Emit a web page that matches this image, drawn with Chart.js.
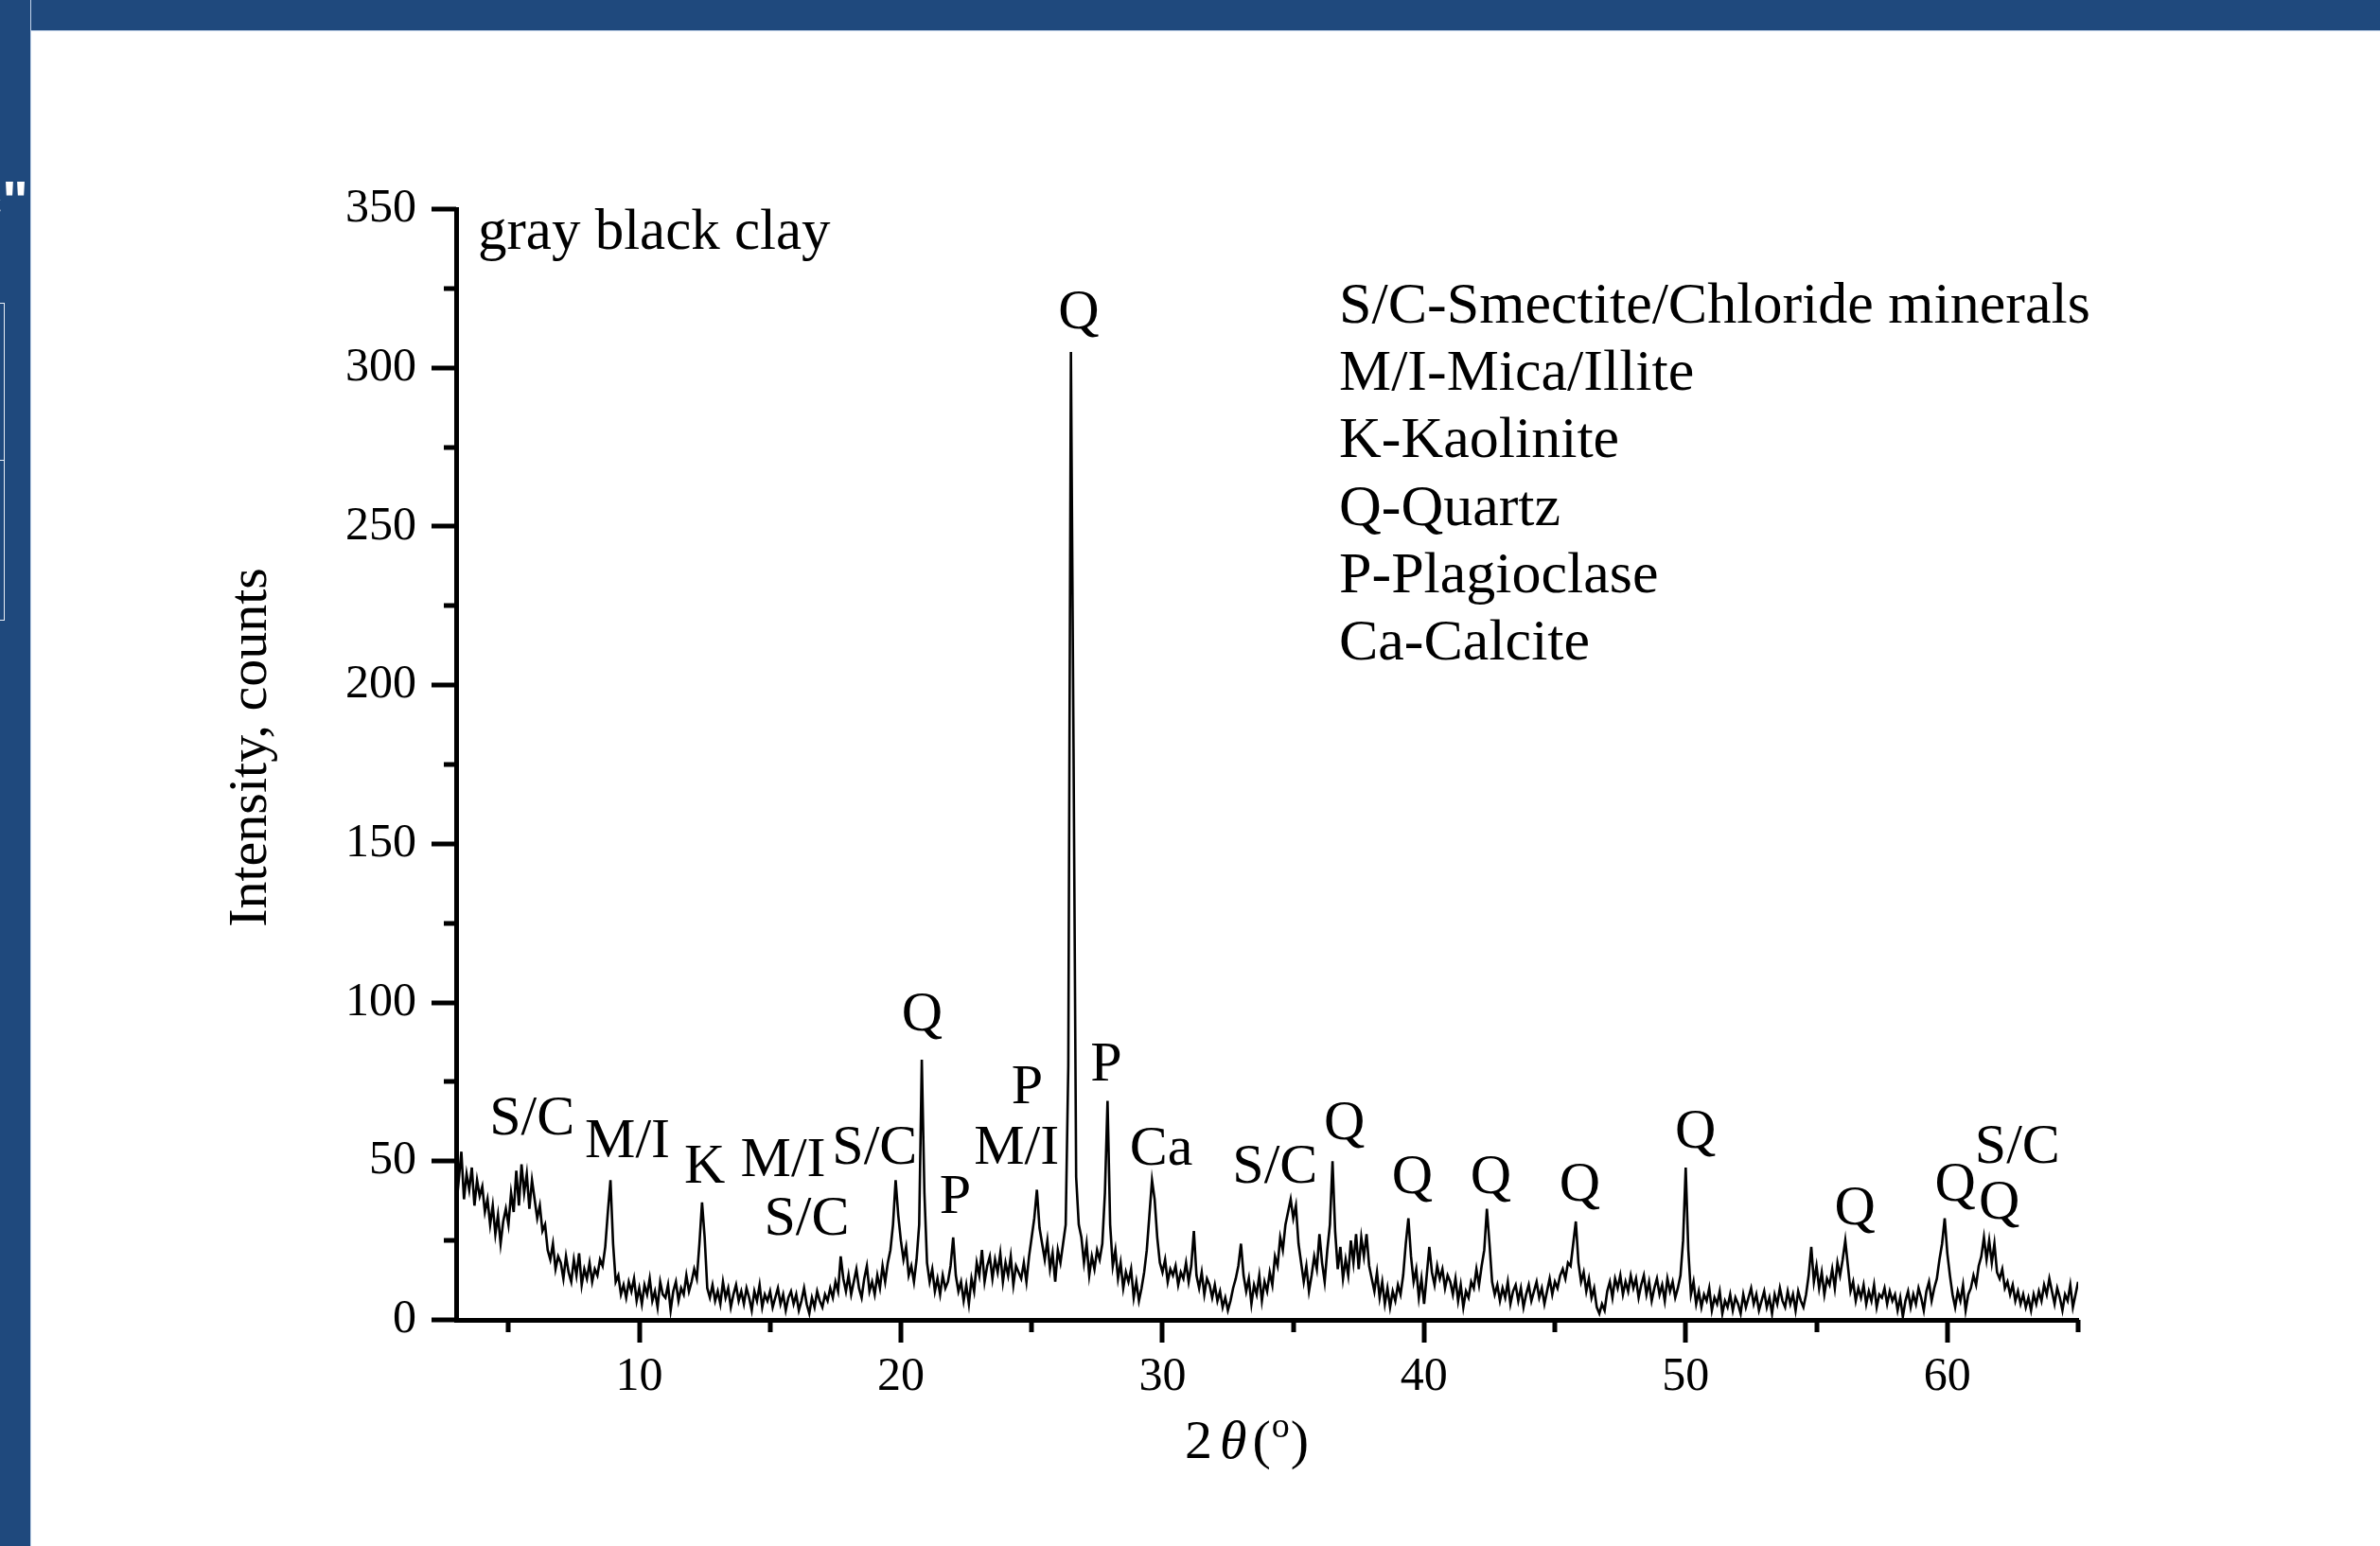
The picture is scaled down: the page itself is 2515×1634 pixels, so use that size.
<!DOCTYPE html>
<html>
<head>
<meta charset="utf-8">
<script src="https://cdn.jsdelivr.net/npm/chart.js@4.4.1/dist/chart.umd.min.js"></script>
<style>
html,body{margin:0;padding:0;width:2515px;height:1634px;overflow:hidden;background:#ffffff;}
#c{position:absolute;left:0;top:0;}
.frame{position:absolute;background:#1F497D;z-index:2;}
#ftop{left:0;top:0;width:2515px;height:32px;border-bottom:1px solid #c3d4ea;}
#fleft{left:0;top:0;width:32px;height:1634px;border-right:1px solid #c3d4ea;}
#stray{position:absolute;left:-30px;top:178px;color:#ffffff;font:bold 58px "Liberation Sans";z-index:3;}
#box{position:absolute;left:-100px;top:320px;width:103px;height:334px;border:1.5px solid #e8eef6;z-index:3;}
#boxmid{position:absolute;left:-100px;top:486px;width:104px;height:0;border-top:1.5px solid #e8eef6;z-index:3;}
</style>
</head>
<body>
<div class="frame" id="ftop"></div>
<div class="frame" id="fleft"></div>
<div id="stray">c"</div>
<div id="box"></div>
<div id="boxmid"></div>
<canvas id="c" width="2515" height="1634"></canvas>
<script>
// ---- data ----
const twoThetaStart = 3.0;
const twoThetaStep = 0.1;
const intensity = [
 50,44,53,38,46,41,48,36,44,39,
 42,34,38,30,36,27,33,24,31,35,
 30,40,34,47,36,49,40,46,35,44,
 38,32,36,28,30,22,19,24,16,20,
 18,13,20,15,12,19,14,21,11,16,
 13,18,12,16,14,19,17,23,34,44,
 24,12,14,8,11,7,12,9,13,6,
 10,5,11,8,13,6,9,4,12,8,
 7,11,3,9,12,6,10,8,14,9,
 12,16,13,24,37,26,10,7,11,6,
 9,5,12,7,10,4,8,11,6,9,
 5,10,7,3,9,6,11,4,8,6,
 9,4,7,10,5,8,3,7,9,5,
 8,3,6,10,5,2,7,4,9,6,
 4,8,6,10,7,12,9,20,13,9,
 14,8,12,16,10,7,13,17,9,12,
 8,14,10,17,12,18,22,30,44,33,
 25,19,23,14,17,12,19,30,82,40,
 18,12,16,9,13,8,14,10,12,17,
 26,14,9,12,6,11,5,13,9,18,
 14,22,12,17,20,13,19,15,21,12,
 18,14,20,11,17,15,13,18,12,20,
 26,32,41,29,24,19,25,16,21,12,
 22,18,24,30,80,305,180,45,30,26,
 18,24,14,20,16,22,19,24,40,69,
 30,17,22,13,18,10,15,12,16,7,
 12,6,10,15,22,33,44,38,26,18,
 15,19,12,16,14,17,11,15,13,18,
 12,17,28,14,10,15,8,13,11,7,
 11,6,9,4,7,3,6,10,13,17,
 24,14,9,13,5,11,8,14,6,12,
 9,15,11,20,17,26,22,30,34,38,
 32,36,24,18,12,17,9,14,20,16,
 27,18,12,22,30,50,28,16,23,13,
 19,14,25,18,27,16,26,20,27,17,
 13,9,15,7,12,5,10,4,9,6,
 11,8,14,24,32,20,12,16,7,13,
 5,14,23,15,11,17,13,16,10,14,
 12,8,13,6,11,4,9,7,12,10,
 16,11,17,22,35,24,12,8,11,6,
 10,7,12,5,9,11,6,10,4,8,
 11,6,9,12,7,10,5,9,13,8,
 12,10,14,16,13,18,17,24,31,18,
 12,15,9,13,7,10,4,2,5,3,
 9,12,7,13,10,14,8,12,9,14,
 10,13,7,11,14,8,12,6,10,13,
 8,11,6,13,9,12,7,10,14,25,
 48,22,8,12,5,9,4,8,6,10,
 3,7,5,9,2,6,4,8,3,7,
 5,2,8,4,7,10,5,8,3,6,
 9,4,7,2,8,5,10,6,4,9,
 5,8,3,9,6,4,8,14,23,12,
 17,10,15,8,13,11,16,10,18,14,
 19,25,17,9,12,6,10,7,11,5,
 9,6,11,4,8,7,10,5,9,6,
 8,3,7,1,6,9,4,8,5,10,
 7,3,9,12,6,10,13,19,24,32,
 21,14,8,4,9,6,11,3,8,10,
 14,11,17,20,26,19,25,18,24,15,
 13,16,10,12,8,11,6,9,5,8,
 4,7,3,8,5,9,6,11,8,13,
 9,5,10,7,3,8,6,11,4,8,
 12
];
const xMin = 3, xMax = 65;
const yMin = 0, yMax = 350;
const xMajorTicks = [10,20,30,40,50,60];
const xMinorTicks = [5,15,25,35,45,55,65];
const yMajorTicks = [0,50,100,150,200,250,300,350];
const yMinorTicks = [25,75,125,175,225,275,325];
const peakLabels = ['S/C','M/I','K','M/I','S/C','S/C','Q','P','P','M/I','Q','P','Ca','S/C','Q','Q','Q','Q','Q','Q','Q','S/C','Q'];
const peakLabelX = [5.9,9.55,12.5,15.5,19.0,16.4,20.81,22.08,24.83,24.42,26.8,27.85,29.95,34.3,36.95,39.55,42.55,45.95,50.37,56.47,60.3,62.68,61.99];
const peakLabelY = [63,56,48,50,54,31.5,96,38.3,73,54,317,80,53.5,48,61.7,44.5,44.5,42.3,59,34.7,42.3,54.3,36.7];
const legendLines = ['S/C-Smectite/Chloride minerals','M/I-Mica/Illite','K-Kaolinite','Q-Quartz','P-Plagioclase','Ca-Calcite'];
const sampleName = 'gray black clay';
const yTitle = 'Intensity, counts';

// ---- build points ----
const points = intensity.map((v,i)=>({x: twoThetaStart + i*twoThetaStep, y: v}));

const SERIF = '"Liberation Serif", "Times New Roman", serif';
const AXIS_W = 5;

const extrasPlugin = {
  id: 'extras',
  afterDraw(chart){
    const ctx = chart.ctx, xs = chart.scales.x, ys = chart.scales.y, a = chart.chartArea;
    ctx.save();
    // tick marks
    ctx.strokeStyle = '#000'; ctx.lineWidth = AXIS_W; ctx.lineCap = 'butt';
    const drawX = (v,len)=>{ const p = Math.round(xs.getPixelForValue(v)); ctx.beginPath(); ctx.moveTo(p, a.bottom); ctx.lineTo(p, a.bottom+len); ctx.stroke(); };
    const drawY = (v,len)=>{ const p = Math.round(ys.getPixelForValue(v)); ctx.beginPath(); ctx.moveTo(a.left, p); ctx.lineTo(a.left-len, p); ctx.stroke(); };
    xMajorTicks.forEach(v=>drawX(v,24)); xMinorTicks.forEach(v=>drawX(v,13));
    yMajorTicks.forEach(v=>drawY(v,26)); yMinorTicks.forEach(v=>drawY(v,13));

    ctx.fillStyle = '#000';
    // peak labels
    ctx.font = '60px ' + SERIF; ctx.textAlign = 'center'; ctx.textBaseline = 'middle';
    peakLabels.forEach((t,i)=>{ ctx.fillText(t, xs.getPixelForValue(peakLabelX[i]), ys.getPixelForValue(peakLabelY[i])); });

    // sample name
    ctx.textAlign = 'left'; ctx.textBaseline = 'alphabetic';
    ctx.font = '61px ' + SERIF;
    ctx.fillText(sampleName, a.left + 23, a.top + 42);

    // legend text
    ctx.font = '62px ' + SERIF;
    legendLines.forEach((t,i)=>{ ctx.fillText(t, a.left + 933, a.top + 120 + i*71.2); });

    // y title
    ctx.save();
    ctx.translate(a.left - 216, a.top + 569);
    ctx.rotate(-Math.PI/2);
    ctx.font = '58px ' + SERIF; ctx.textAlign = 'center'; ctx.textBaseline = 'middle';
    ctx.fillText(yTitle, 0, 0);
    ctx.restore();

    // x title: 2θ(°)
    let x = a.left + 770; const base = a.bottom + 146;
    ctx.textAlign = 'left'; ctx.textBaseline = 'alphabetic';
    ctx.font = '58px ' + SERIF; ctx.fillText('2', x, base); x += ctx.measureText('2').width + 8;
    ctx.font = 'italic 58px ' + SERIF; ctx.fillText('\u03B8', x, base); x += ctx.measureText('\u03B8').width + 6;
    ctx.font = '58px ' + SERIF; ctx.fillText('(', x, base); x += ctx.measureText('(').width + 1;
    ctx.font = '38px ' + SERIF; ctx.fillText('o', x, base - 22); x += ctx.measureText('o').width + 1;
    ctx.font = '58px ' + SERIF; ctx.fillText(')', x, base);
    ctx.restore();
  }
};

new Chart(document.getElementById('c'), {
  type: 'line',
  data: { datasets: [{ data: points, borderColor: '#000', borderWidth: 2.6, pointRadius: 0, tension: 0, fill: false }] },
  options: {
    responsive: false, animation: false, devicePixelRatio: 1, events: [],
    layout: { padding: { left: 0, top: 221, right: 319, bottom: 0 } },
    plugins: { legend: { display: false }, tooltip: { enabled: false }, title: { display: false } },
    scales: {
      x: {
        type: 'linear', min: xMin, max: xMax,
        grid: { display: false, drawTicks: false },
        border: { display: true, color: '#000', width: AXIS_W },
        ticks: { stepSize: 5, autoSkip: false, maxRotation: 0, padding: 31, color: '#000',
          font: { family: SERIF, size: 50 },
          callback: (v)=> xMajorTicks.includes(v) ? String(v) : '' },
        afterFit: (s)=>{ s.height = 1634 - 1395; }
      },
      y: {
        type: 'linear', min: yMin, max: yMax,
        grid: { display: false, drawTicks: false },
        border: { display: true, color: '#000', width: AXIS_W },
        ticks: { stepSize: 25, autoSkip: false, padding: 42, color: '#000',
          font: { family: SERIF, size: 50 },
          callback: (v)=> yMajorTicks.includes(v) ? String(v) : '' },
        afterFit: (s)=>{ s.width = 482; }
      }
    }
  },
  plugins: [extrasPlugin]
});
</script>
</body>
</html>
